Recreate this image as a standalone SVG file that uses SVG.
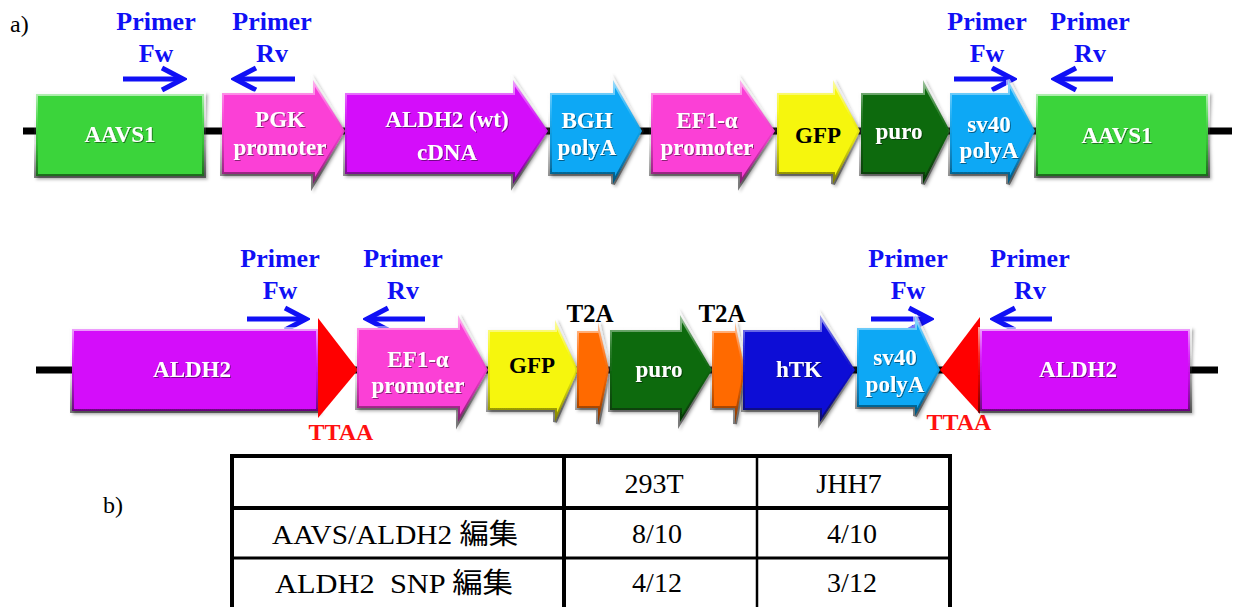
<svg xmlns="http://www.w3.org/2000/svg" width="1234" height="607" viewBox="0 0 1234 607">
<defs>
<style>
.lbl{font-family:"Liberation Serif","Times New Roman",serif;font-weight:bold;font-size:23px;text-anchor:middle;fill:#fff;}
.dark{fill:#000;}
.pr{font-family:"Liberation Serif","Times New Roman",serif;font-weight:bold;font-size:26px;text-anchor:middle;fill:#1010f5;}
.ttaa{font-family:"Liberation Serif","Times New Roman",serif;font-weight:bold;font-size:24px;text-anchor:middle;fill:#ff1010;}
.t2a{font-family:"Liberation Serif","Times New Roman",serif;font-weight:bold;font-size:25px;text-anchor:middle;fill:#000;}
.plain{font-family:"Liberation Serif","Times New Roman",serif;font-size:24px;fill:#000;}
.tc{font-family:"Liberation Serif","Times New Roman","Noto Sans CJK JP",serif;font-size:28px;text-anchor:middle;fill:#000;}
.ts{font-family:"Liberation Serif","Times New Roman","Noto Sans CJK JP",serif;font-size:28px;text-anchor:start;fill:#000;}
.bb{stroke:#000;stroke-width:7;fill:none;}
.pa{stroke:#1010f5;stroke-width:5;fill:none;marker-end:url(#chev);}
.shp{filter:url(#sh);stroke:url(#bev);stroke-width:4;stroke-linejoin:miter;}
.green{fill:#3bd43b;}
.pink{fill:#fb3fd6;}
.purple{fill:#d40cfa;}
.sky{fill:#0aa8f5;}
.yellow{fill:#f6f60a;}
.dgreen{fill:#0b6a0b;}
.orange{fill:#ff6a05;}
.blue{fill:#0d0dd6;}
.red{fill:#ff0000;}
.tl{stroke:#000;fill:none;}
</style>
<linearGradient id="bev" x1="0" y1="0" x2="0" y2="1">
<stop offset="0" stop-color="#fff" stop-opacity="0.6"/>
<stop offset="0.3" stop-color="#fff" stop-opacity="0.15"/>
<stop offset="0.6" stop-color="#000" stop-opacity="0.1"/>
<stop offset="1" stop-color="#000" stop-opacity="0.5"/>
</linearGradient>
<filter id="sh" x="-10%" y="-10%" width="125%" height="130%">
<feDropShadow dx="2" dy="2" stdDeviation="1.5" flood-color="#000" flood-opacity="0.4"/>
</filter>
<filter id="ts" x="-10%" y="-20%" width="120%" height="140%">
<feDropShadow dx="1" dy="1" stdDeviation="0.6" flood-color="#000" flood-opacity="0.45"/>
</filter>
<marker id="chev" markerUnits="userSpaceOnUse" viewBox="-26 -15 30 30" refX="0" refY="0" markerWidth="30" markerHeight="30" orient="auto">
<path d="M-21,-11 L0,0 L-21,11" stroke="#1010f5" stroke-width="5" fill="none"/>
</marker>
</defs>
<rect width="1234" height="607" fill="#fff"/>

<text class="plain" x="10" y="32">a)</text>
<text class="plain" x="103" y="513">b)</text>

<g id="connectors">
<line class="bb" x1="23" y1="131" x2="1232" y2="131"/>
<line class="bb" x1="36" y1="370" x2="1218" y2="370"/>
<path class="pa" d="M123,79 H183"/>
<path class="pa" d="M295,79 H235"/>
<path class="pa" d="M954,79 H1013"/>
<path class="pa" d="M1113,79 H1055"/>
<path class="pa" d="M247,319 H306"/>
<path class="pa" d="M425,319 H367"/>
<path class="pa" d="M871,319 H930"/>
<path class="pa" d="M1052,319 H994"/>
</g>

<g id="primer-labels">
<text class="pr" x="156" y="30">Primer</text><text class="pr" x="156" y="62">Fw</text>
<text class="pr" x="272" y="30">Primer</text><text class="pr" x="272" y="62">Rv</text>
<text class="pr" x="987" y="30">Primer</text><text class="pr" x="987" y="62">Fw</text>
<text class="pr" x="1090" y="30">Primer</text><text class="pr" x="1090" y="62">Rv</text>
<text class="pr" x="280" y="267">Primer</text><text class="pr" x="280" y="299">Fw</text>
<text class="pr" x="403" y="267">Primer</text><text class="pr" x="403" y="299">Rv</text>
<text class="pr" x="908" y="267">Primer</text><text class="pr" x="908" y="299">Fw</text>
<text class="pr" x="1030" y="267">Primer</text><text class="pr" x="1030" y="299">Rv</text>
</g>

<!-- top row -->
<g id="aavs1-left"><rect class="shp green" x="36" y="94" width="168" height="82"/><text class="lbl" filter="url(#ts)" x="120" y="142">AAVS1</text></g>
<g id="pgk"><polygon class="shp pink" points="222,93 313,93 313,80 345,131 313,184 313,174 222,174"/><text class="lbl" filter="url(#ts)" x="280" y="127">PGK</text><text class="lbl" filter="url(#ts)" x="280" y="155">promoter</text></g>
<g id="aldh2-wt"><polygon class="shp purple" points="345,93 513,93 513,80 548,131 513,184 513,174 345,174"/><text class="lbl" filter="url(#ts)" x="447" y="127">ALDH2 (wt)</text><text class="lbl" filter="url(#ts)" x="447" y="160">cDNA</text></g>
<g id="bgh"><polygon class="shp sky" points="550,93 613,93 613,80 642,131 613,184 613,174 550,174"/><text class="lbl" filter="url(#ts)" x="587" y="128">BGH</text><text class="lbl" filter="url(#ts)" x="587" y="155">polyA</text></g>
<g id="ef1a-top"><polygon class="shp pink" points="651,93 740,93 740,80 775,131 740,184 740,174 651,174"/><text class="lbl" filter="url(#ts)" x="707" y="128">EF1-α</text><text class="lbl" filter="url(#ts)" x="707" y="155">promoter</text></g>
<g id="gfp-top"><polygon class="shp yellow" points="777,93 833,93 833,80 860,131 833,184 833,174 777,174"/><text class="lbl dark" x="818" y="143">GFP</text></g>
<g id="puro-top"><polygon class="shp dgreen" points="861,93 923,93 923,80 950,131 923,184 923,174 861,174"/><text class="lbl" filter="url(#ts)" x="899" y="139">puro</text></g>
<g id="sv40-top"><polygon class="shp sky" points="950,93 1008,93 1008,80 1035,131 1008,184 1008,174 950,174"/><text class="lbl" filter="url(#ts)" x="989" y="132">sv40</text><text class="lbl" filter="url(#ts)" x="989" y="158">polyA</text></g>
<g id="aavs1-right"><rect class="shp green" x="1036" y="94" width="172" height="82"/><text class="lbl" filter="url(#ts)" x="1117" y="143">AAVS1</text></g>

<!-- bottom row -->
<g id="aldh2-left"><rect class="shp purple" x="72" y="329" width="246" height="82"/><text class="lbl" filter="url(#ts)" x="192" y="377">ALDH2</text></g>
<g id="ttaa-left"><polygon class="red" points="318,318 358,370 318,418"/><text class="ttaa" x="341" y="440">TTAA</text></g>
<g id="ef1a-bottom"><polygon class="shp pink" points="357,328 458,328 458,315 488,370 458,422 458,408 357,408"/><text class="lbl" filter="url(#ts)" x="418" y="367">EF1-α</text><text class="lbl" filter="url(#ts)" x="418" y="393">promoter</text></g>
<g id="gfp-bottom"><polygon class="shp yellow" points="488,330 555,330 555,320 578,370 555,422 555,410 488,410"/><text class="lbl dark" x="532" y="373">GFP</text></g>
<g id="t2a-1"><polygon class="shp orange" points="577,331 598,331 598,322 609,370 598,424 598,408 577,408"/><text class="t2a" x="590" y="322">T2A</text></g>
<g id="puro-bottom"><polygon class="shp dgreen" points="610,330 680,330 680,315 712,370 680,422 680,410 610,410"/><text class="lbl" filter="url(#ts)" x="659" y="377">puro</text></g>
<g id="t2a-2"><polygon class="shp orange" points="712,331 735,331 735,322 745,370 735,424 735,408 712,408"/><text class="t2a" x="722" y="322">T2A</text></g>
<g id="htk"><polygon class="shp blue" points="743,330 820,330 820,315 855,370 820,422 820,410 743,410"/><text class="lbl" filter="url(#ts)" x="799" y="377">hTK</text></g>
<g id="sv40-bottom"><polygon class="shp sky" points="857,328 915,328 915,315 940,370 915,416 915,407 857,407"/><text class="lbl" filter="url(#ts)" x="895" y="365">sv40</text><text class="lbl" filter="url(#ts)" x="895" y="392">polyA</text></g>
<g id="ttaa-right"><polygon class="red" points="980,317 940,370 980,414"/><text class="ttaa" x="959" y="430">TTAA</text></g>
<g id="aldh2-right"><rect class="shp purple" x="980" y="329" width="210" height="82"/><text class="lbl" filter="url(#ts)" x="1078" y="377">ALDH2</text></g>

<!-- table -->
<g id="table">
<rect class="tl" x="232" y="456" width="718" height="160" stroke-width="4"/>
<line class="tl" x1="232" y1="508" x2="950" y2="508" stroke-width="4"/>
<line class="tl" x1="232" y1="558" x2="950" y2="558" stroke-width="3"/>
<line class="tl" x1="564" y1="456" x2="564" y2="607" stroke-width="4"/>
<line class="tl" x1="757" y1="456" x2="757" y2="607" stroke-width="2.5"/>
<text class="tc" x="654" y="493">293T</text>
<text class="tc" x="849" y="493">JHH7</text>
<text class="ts" x="272" y="544" textLength="246" lengthAdjust="spacingAndGlyphs">AAVS/ALDH2 編集</text>
<text class="tc" x="657" y="543">8/10</text>
<text class="tc" x="852" y="543">4/10</text>
<text class="ts" x="275" y="593" textLength="238" lengthAdjust="spacingAndGlyphs" xml:space="preserve">ALDH2  SNP 編集</text>
<text class="tc" x="657" y="592">4/12</text>
<text class="tc" x="852" y="592">3/12</text>
</g>
</svg>
